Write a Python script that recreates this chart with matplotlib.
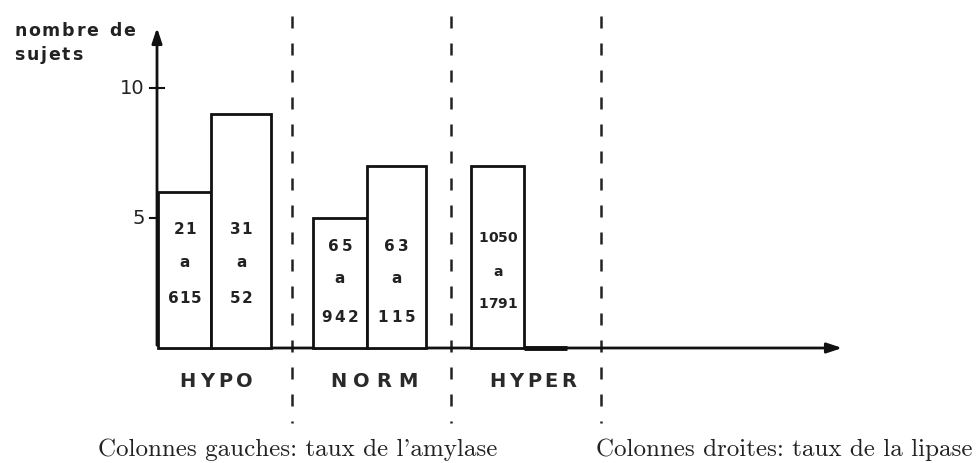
import matplotlib
matplotlib.use("Agg")
import matplotlib.pyplot as plt

# ---- data ----
categories = ["HYPO", "NORM", "HYPER"]
amylase_counts = [6, 5, 7]          # left columns
lipase_counts = [9, 7, 0]           # right columns
amylase_ranges = [["21", "a", "615"], ["65", "a", "942"], ["1050", "a", "1791"]]
lipase_ranges = [["31", "a", "52"], ["63", "a", "115"], []]
y_ticks = [5, 10]
y_label = ["nombre de", "sujets"]
caption_left = "Colonnes gauches: taux de l'amylase"
caption_right = "Colonnes droites: taux de la lipase"

# ---- layout (1 x-unit = 55 px, 1 y-unit = 26 px) ----
W, H = 977, 464
px_x, px_y = 55.0, 26.0
x0_px, y0_px = 157, 349
group_start = [0.02, 2.84, 5.71]
w_amy = 0.97
w_lip = [1.08, 1.08, 0.78]
sep_x = [2.45, 5.35, 8.07]

fig = plt.figure(figsize=(W / 100, H / 100), dpi=100)
ax = fig.add_axes([0, 0, 1, 1])
ax.set_xlim(-x0_px / px_x, (W - x0_px) / px_x)
ax.set_ylim(-(H - y0_px) / px_y, y0_px / px_y)
ax.axis("off")
renderer = fig.canvas.get_renderer()


def dx(px):
    return (px - x0_px) / px_x


def dy(py):
    return (y0_px - py) / px_y


def spaced_text(xc_data, y_data, s, spacing_px, ha="center", **kw):
    """Draw text with extra letter spacing (in pixels)."""
    objs, widths = [], []
    for ch in s:
        t = ax.text(0, y_data, ch, ha="left", va="center", **kw)
        if ch == " ":
            tmp = ax.text(0, 0, "n", **kw)
            w = tmp.get_window_extent(renderer).width * 0.55
            tmp.remove()
        else:
            w = t.get_window_extent(renderer).width
        objs.append(t)
        widths.append(w)
    total = sum(widths) + spacing_px * (len(s) - 1)
    if ha == "center":
        start = xc_data * px_x - total / 2
    elif ha == "left":
        start = xc_data * px_x
    else:
        start = xc_data * px_x - total
    cur = start
    for t, w in zip(objs, widths):
        t.set_x(cur / px_x)
        cur += w + spacing_px


# bars
for i in range(len(categories)):
    ax.bar(group_start[i], amylase_counts[i], width=w_amy, align="edge",
           facecolor="white", edgecolor="#111111", linewidth=2, zorder=3)
    ax.bar(group_start[i] + w_amy, lipase_counts[i], width=w_lip[i], align="edge",
           facecolor="white", edgecolor="#111111",
           linewidth=2 if lipase_counts[i] > 0 else 3.5, zorder=3)

# text inside bars
ys_sets = [[dy(229), dy(262.5), dy(298.5)],
           [dy(247), dy(279), dy(317)],
           [dy(238.5), dy(272.5), dy(303.5)]]
lab_size = [11, 11, 10]
lab_space = [1.0, 3.0, 0.0]
for i in range(len(categories)):
    for lines, xc in ((amylase_ranges[i], group_start[i] + w_amy / 2),
                      (lipase_ranges[i], group_start[i] + w_amy + w_lip[i] / 2)):
        for line, yy in zip(lines, ys_sets[i]):
            spaced_text(xc, yy, line, lab_space[i], fontsize=lab_size[i],
                        fontweight="bold", color="#222222", zorder=4)

# axes with arrows
ax.annotate("", xy=(0, dy(26)), xytext=(0, 0),
            arrowprops=dict(arrowstyle="-|>,head_length=0.9,head_width=0.3",
                            color="#111111", lw=2), zorder=2)
ax.annotate("", xy=(dx(845), 0), xytext=(0, 0),
            arrowprops=dict(arrowstyle="-|>,head_length=0.9,head_width=0.3",
                            color="#111111", lw=2), zorder=2)

# y ticks
for t in y_ticks:
    ax.plot([-7 / px_x, 7 / px_x], [t, t], color="#111111", lw=1.5, zorder=2)
    ax.text(-12 / px_x, t, str(t), ha="right", va="center", fontsize=14,
            color="#222222")

# y label
spaced_text(dx(14), dy(31), y_label[0], 1.8, ha="left", fontsize=12.5,
            fontweight="bold", color="#222222")
spaced_text(dx(14), dy(55), y_label[1], 1.8, ha="left", fontsize=12.5,
            fontweight="bold", color="#222222")

# dashed separators
for sx in sep_x:
    ax.plot([sx, sx], [dy(17), dy(424)],
            color="#222222", lw=1.8, linestyle=(0, (4.8, 6)), zorder=1)

# category labels
cat_cx = [216, 374, 533]
cat_space = [4.0, 7.0, 3.5]
for cx, lab, sp in zip(cat_cx, categories, cat_space):
    spaced_text(dx(cx), dy(382), lab, sp, fontsize=14, fontweight="bold",
                color="#2a2a2a")

# captions
cap_font = ["cmr10", "DejaVu Serif"]
ax.text(dx(98), dy(450), caption_left, ha="left", va="center",
        fontsize=18, family=cap_font, color="#222222")
ax.text(dx(973), dy(450), caption_right, ha="right", va="center",
        fontsize=18, family=cap_font, color="#222222")

fig.savefig("out.png", dpi=100, facecolor="white")
